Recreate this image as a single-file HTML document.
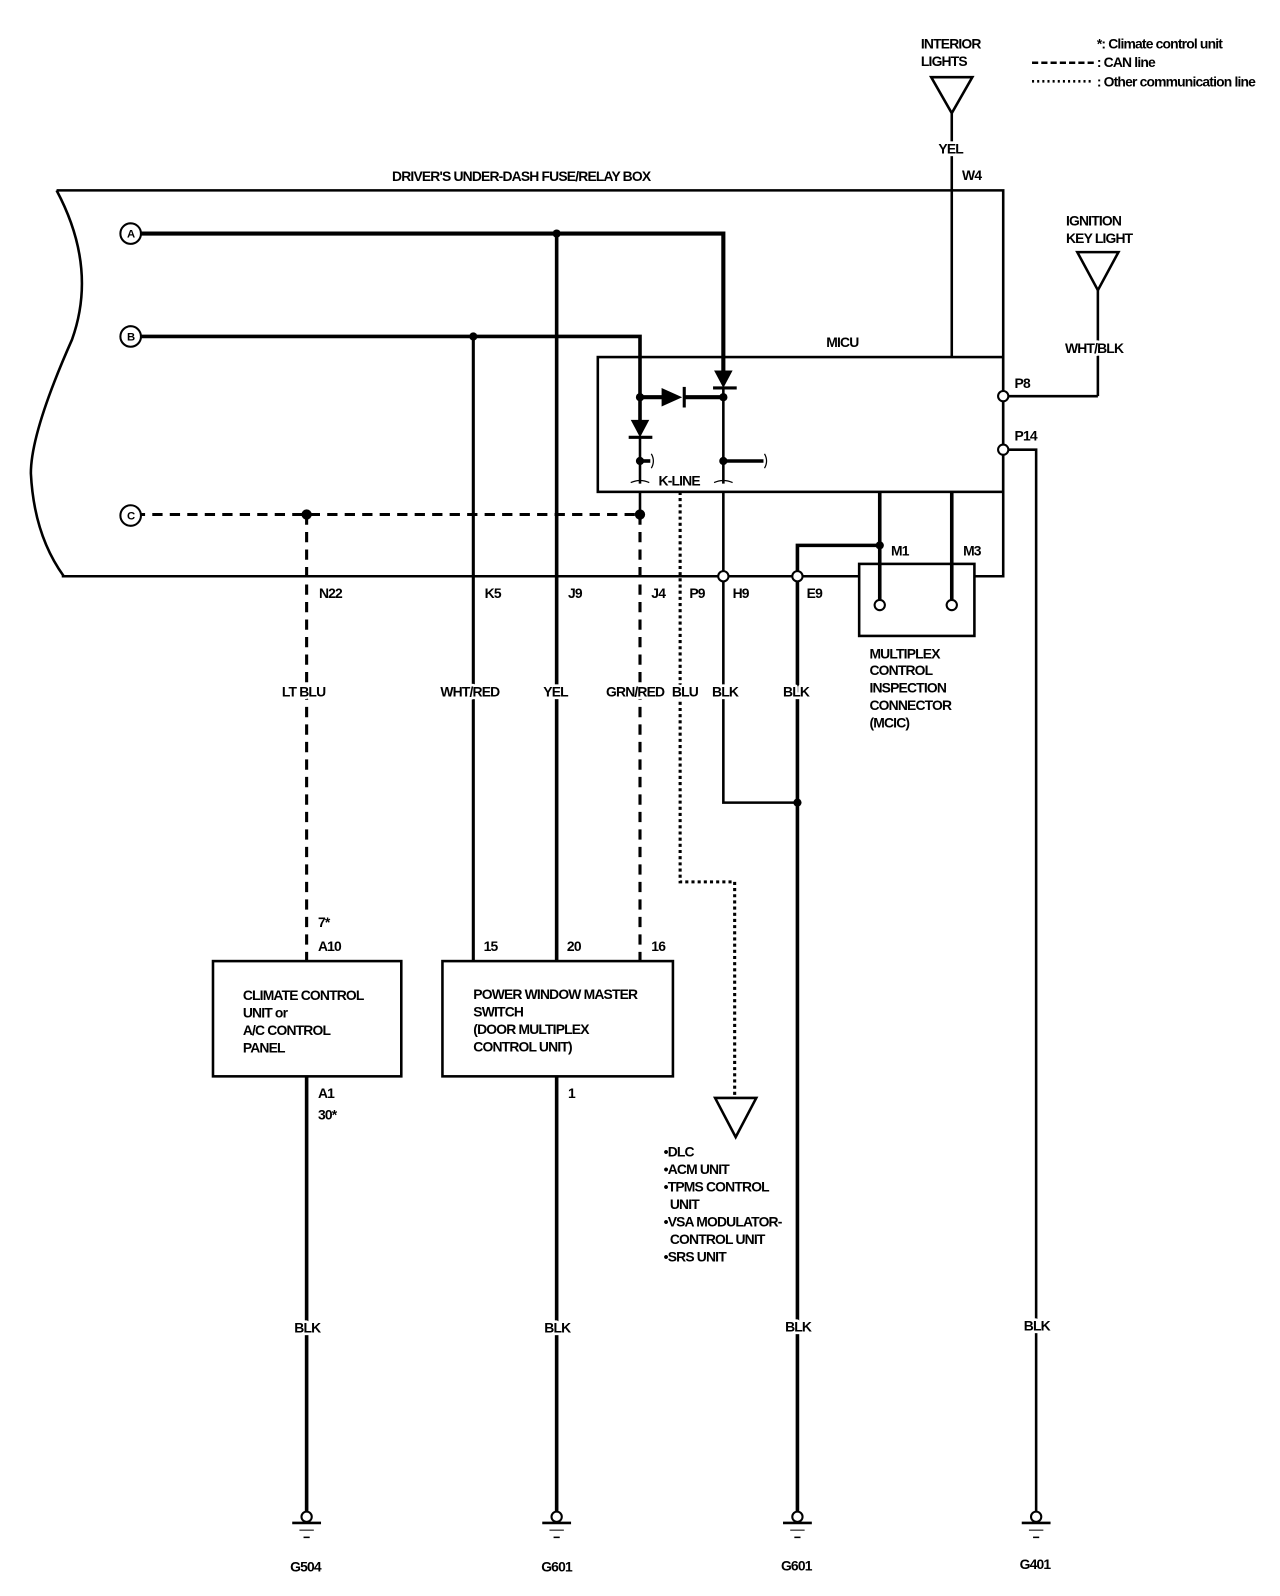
<!DOCTYPE html>
<html><head><style>
html,body{margin:0;padding:0;background:#fff;}
svg{display:block;}
text{font-family:"Liberation Sans Narrow","Liberation Sans",sans-serif;font-weight:bold;font-size:13.5px;fill:#000;letter-spacing:-0.8px;}
.w{stroke:#fff;stroke-width:5px;paint-order:stroke;stroke-linejoin:round;}
</style></head><body>
<svg width="1280" height="1596" viewBox="0 0 1244 1551" preserveAspectRatio="none" xmlns="http://www.w3.org/2000/svg">
<g fill="none" stroke="#000" stroke-width="2.5">
<path d="M55,185 L975,185 L975,560 L947,560"/>
<path d="M835,560 L60,560"/>
<path d="M55,185 Q95,260 70,330 Q30,420 30,460 Q33,520 62,560"/>
<rect x="581" y="347" width="394" height="131"/>
<rect x="835" y="548" width="112" height="70"/>
<path d="M905,75 L945,75 L925,110 Z"/>
<line x1="925" y1="110" x2="925" y2="347"/>
<path d="M1047,245 L1087,245 L1067,282 Z"/>
<line x1="1067" y1="282" x2="1067" y2="385"/>
<line x1="1067" y1="385" x2="980" y2="385"/>
<polyline points="980,437 1007,437 1007,1470"/>
<polyline points="131,227 703,227 703,362" stroke-width="4"/>
<line x1="541" y1="227" x2="541" y2="934" stroke-width="3.5"/>
<line x1="541" y1="1046" x2="541" y2="1470" stroke-width="3.5"/>
<polyline points="131,327 622,327 622,410" stroke-width="3.5"/>
<line x1="460" y1="327" x2="460" y2="934" stroke-width="3"/>
<line x1="622" y1="386" x2="645" y2="386" stroke-width="4"/>
<line x1="665" y1="386" x2="703" y2="386" stroke-width="4"/>
<line x1="703" y1="378" x2="703" y2="470"/>
<line x1="622" y1="425" x2="622" y2="470"/>
<line x1="622" y1="448" x2="632" y2="448" stroke-width="3.5"/>
<line x1="703" y1="448" x2="742" y2="448" stroke-width="3.5"/>
<line x1="611" y1="425" x2="634" y2="425" stroke-width="3"/>
<line x1="693" y1="377" x2="716" y2="377" stroke-width="3"/>
<line x1="665" y1="376" x2="665" y2="396" stroke-width="3"/>
<path d="M613,469 Q622,465 631,469 M694,469 Q703,465 712,469 M633,441 q4,7 0,14 M743,441 q4,7 0,14" stroke-width="1.2"/>
<polyline points="703,478 703,780 775,780" stroke-width="2.5"/>
<polyline points="775,1470 775,530 855,530" stroke-width="3.5"/>
<line x1="855" y1="478" x2="855" y2="583" stroke-width="3.5"/>
<line x1="925" y1="478" x2="925" y2="583" stroke-width="3.5"/>
<line x1="131" y1="500" x2="622" y2="500" stroke-dasharray="10,7" stroke-width="3"/>
<line x1="298" y1="500" x2="298" y2="934" stroke-dasharray="10,7" stroke-width="3"/>
<line x1="622" y1="500" x2="622" y2="934" stroke-dasharray="10,7" stroke-width="3"/>
<line x1="622" y1="478" x2="622" y2="500"/>
<polyline points="661,478 661,857 714,857 714,1065" stroke-dasharray="3,3" stroke-width="3"/>
<path d="M695,1067 L735,1067 L715,1105 Z"/>
<rect x="207" y="934" width="183" height="112"/>
<rect x="430" y="934" width="224" height="112"/>
<line x1="298" y1="1046" x2="298" y2="1470" stroke-width="3.5"/>
<line x1="1003" y1="61" x2="1063" y2="61" stroke-dasharray="6,3" stroke-width="2.5"/>
<line x1="1003" y1="79" x2="1063" y2="79" stroke-dasharray="2,3" stroke-width="2.5"/>
</g>
<g stroke="#000" fill="#fff">
<g id="g1"><circle cx="298" cy="1474" r="5" stroke-width="2"/><line x1="284" y1="1480" x2="312" y2="1480" stroke-width="2.5"/><line x1="291" y1="1487" x2="305" y2="1487" stroke-width="1"/><line x1="295" y1="1494" x2="301" y2="1494" stroke-width="1.5"/></g>
<use href="#g1" transform="translate(243,0)"/>
<use href="#g1" transform="translate(477,0)"/>
<use href="#g1" transform="translate(709,0)"/>
</g>
<g fill="#000">
<path d="M694,360 L712,360 L703,377 Z"/>
<path d="M643,377 L643,395 L663,386 Z"/>
<path d="M613,408 L631,408 L622,425 Z"/>
<circle cx="541" cy="227" r="4"/><circle cx="460" cy="327" r="4"/>
<circle cx="622" cy="386" r="4"/><circle cx="703" cy="386" r="4"/>
<circle cx="622" cy="448" r="4"/><circle cx="703" cy="448" r="4"/>
<circle cx="298" cy="500" r="5"/><circle cx="622" cy="500" r="5"/>
<circle cx="775" cy="780" r="4"/><circle cx="855" cy="530" r="4"/>
</g>
<g fill="#fff" stroke="#000" stroke-width="2">
<circle cx="127" cy="227" r="10"/><circle cx="127" cy="327" r="10"/><circle cx="127" cy="501" r="10"/>
<circle cx="975" cy="385" r="5"/><circle cx="975" cy="437" r="5"/>
<circle cx="703" cy="560" r="5"/><circle cx="775" cy="560" r="5"/>
<circle cx="855" cy="588" r="5"/><circle cx="925" cy="588" r="5"/>
</g>
<text x="127" y="231" text-anchor="middle" style="font-size:11px">A</text>
<text x="127" y="331" text-anchor="middle" style="font-size:11px">B</text>
<text x="127" y="505" text-anchor="middle" style="font-size:11px">C</text>
<text x="381" y="176">DRIVER'S UNDER-DASH FUSE/RELAY BOX</text>
<text x="895" y="47">INTERIOR</text><text x="895" y="64">LIGHTS</text>
<text class="w" x="912" y="149">YEL</text><text x="935" y="175">W4</text>
<text x="1066" y="47">*: Climate control unit</text>
<text x="1066" y="65">: CAN line</text>
<text x="1066" y="84">: Other communication line</text>
<text x="1036" y="219">IGNITION</text><text x="1036" y="236">KEY LIGHT</text>
<text class="w" x="1035" y="343">WHT/BLK</text>
<text x="803" y="337">MICU</text>
<text x="986" y="377">P8</text><text x="986" y="428">P14</text>
<text x="640" y="472">K-LINE</text>
<text x="866" y="540">M1</text><text x="936" y="540">M3</text>
<text x="845" y="640">MULTIPLEX</text><text x="845" y="656">CONTROL</text><text x="845" y="673">INSPECTION</text><text x="845" y="690">CONNECTOR</text><text x="845" y="707">(MCIC)</text>
<text x="310" y="581">N22</text><text x="471" y="581">K5</text><text x="552" y="581">J9</text><text x="633" y="581">J4</text><text x="670" y="581">P9</text><text x="712" y="581">H9</text><text x="784" y="581">E9</text>
<text class="w" x="274" y="677">LT BLU</text><text class="w" x="428" y="677">WHT/RED</text><text class="w" x="528" y="677">YEL</text><text class="w" x="589" y="677">GRN/RED</text><text class="w" x="653" y="677">BLU</text><text class="w" x="692" y="677">BLK</text><text class="w" x="761" y="677">BLK</text>
<text x="309" y="901">7*</text><text x="309" y="924">A10</text>
<text x="470" y="924">15</text><text x="551" y="924">20</text><text x="633" y="924">16</text>
<text x="236" y="972">CLIMATE CONTROL</text><text x="236" y="989">UNIT or</text><text x="236" y="1006">A/C CONTROL</text><text x="236" y="1023">PANEL</text>
<text x="460" y="971">POWER WINDOW MASTER</text><text x="460" y="988">SWITCH</text><text x="460" y="1005">(DOOR MULTIPLEX</text><text x="460" y="1022">CONTROL UNIT)</text>
<text x="309" y="1067">A1</text><text x="309" y="1088">30*</text><text x="552" y="1067">1</text>
<text x="645" y="1124">•DLC</text><text x="645" y="1141">•ACM UNIT</text><text x="645" y="1158">•TPMS CONTROL</text><text x="651" y="1175">UNIT</text><text x="645" y="1192">•VSA MODULATOR-</text><text x="651" y="1209">CONTROL UNIT</text><text x="645" y="1226">•SRS UNIT</text>
<text class="w" x="286" y="1295">BLK</text><text class="w" x="529" y="1295">BLK</text><text class="w" x="763" y="1294">BLK</text><text class="w" x="995" y="1293">BLK</text>
<text x="282" y="1527">G504</text><text x="526" y="1527">G601</text><text x="759" y="1526">G601</text><text x="991" y="1525">G401</text>
</svg>
</body></html>
